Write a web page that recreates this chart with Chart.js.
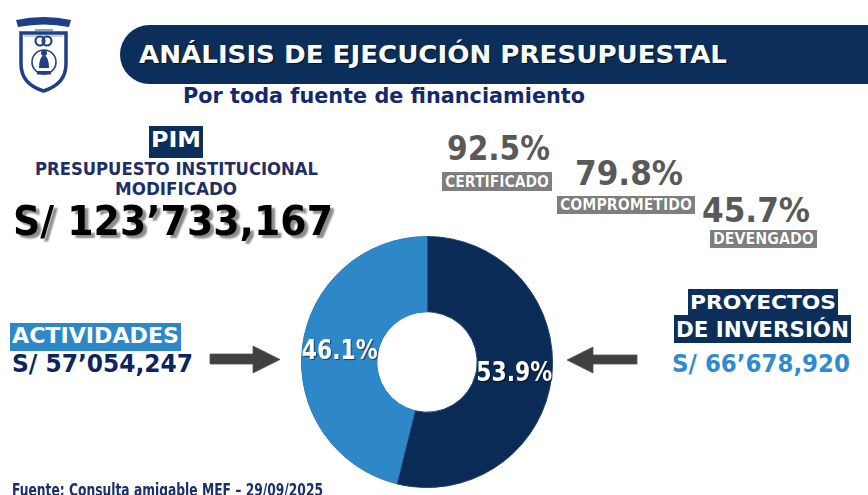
<!DOCTYPE html>
<html>
<head>
<meta charset="utf-8">
<script src="https://cdn.jsdelivr.net/npm/chart.js@4.4.1/dist/chart.umd.min.js"></script>
<style>
  html, body { margin: 0; padding: 0; background: #fff; }
  #page { position: relative; width: 868px; height: 495px; overflow: hidden;
          font-family: "DejaVu Sans", sans-serif; font-weight: bold; }
  .t { position: absolute; white-space: nowrap; line-height: 1; transform-origin: 0 0; }
  .box { position: absolute; }
  #banner { position: absolute; left: 120px; top: 25px; width: 760px; height: 59px;
            background: #0b2f5a; border-radius: 30px 0 0 30px; }
  #donut { position: absolute; left: 301px; top: 236px; width: 252px; height: 252px; }
</style>
</head>
<body>
<div id="page">
  <svg style="position:absolute;left:0;top:0" width="868" height="495">
    <!-- crest -->
    <path d="M16 20 Q44 14 71 20 L69 27 Q44 22 18 27 Z" fill="#203f86"/>
    <rect x="35" y="29" width="18" height="2" fill="#203f86" opacity="0.5"/>
    <path d="M21 33 L66 33 L66 64 Q66 84 43.5 91 Q21 84 21 64 Z" fill="#fff" stroke="#203f86" stroke-width="3.5"/>
    <path d="M24 36 L63 36" stroke="#203f86" stroke-width="1" opacity="0.5"/>
    <circle cx="40" cy="41" r="4.5" fill="none" stroke="#203f86" stroke-width="2.2"/>
    <circle cx="47" cy="41" r="4.5" fill="none" stroke="#203f86" stroke-width="2.2"/>
    <circle cx="44" cy="62" r="12" fill="none" stroke="#203f86" stroke-width="1.6"/>
    <path d="M39 68 Q39 57 44 55 Q49 57 49 68 Z" fill="#203f86"/>
    <circle cx="44" cy="53" r="3" fill="#203f86"/>
    <rect x="37" y="71" width="14" height="3.5" fill="#203f86"/>
    <!-- arrows -->
    <polygon points="210,354 253,354 253,346 280,359.5 253,373 253,364 210,364" fill="#404040" stroke="#555" stroke-width="0.8"/>
    <polygon points="637,355 593,355 593,347 567,360 593,373 593,364 637,364" fill="#404040" stroke="#555" stroke-width="0.8"/>
  </svg>
  <div id="banner"></div>
  <div class="box" style="left:149px;top:126px;width:54px;height:32px;background:#0b2f5a"></div>
  <div class="box" style="left:10px;top:323px;width:171px;height:28px;background:#2e88c8"></div>
  <div class="box" style="left:688px;top:289px;width:150px;height:27px;background:#0b2f5a"></div>
  <div class="box" style="left:674px;top:315px;width:177px;height:28px;background:#0b2f5a"></div>
  <div id="donut"><canvas id="chart"></canvas></div>
</div>
<script>
// budget split (soles)
const categories = ["PROYECTOS DE INVERSIÓN", "ACTIVIDADES"];
const amounts = [66678920, 57054247];
const pimTotal = 123733167;
const sliceColors = ["#0a2b55", "#2e88c8"];
const sliceBorders = ["#1d4170", "#2a7cba"];

// execution stages (% of PIM)
const stages = ["CERTIFICADO", "COMPROMETIDO", "DEVENGADO"];
const stagePct = [92.5, 79.8, 45.7];

function soles(n) {
  const s = String(n);
  const m = s.slice(0, -6), k = s.slice(-6, -3), u = s.slice(-3);
  return "S/ " + m + "\u2019" + k + "," + u;
}

const page = document.getElementById("page");

// put a text so its cap height / left / width match the picture
function put(text, x, capTop, capH, w, color, css) {
  const fs = capH / 0.729;
  const el = document.createElement("div");
  el.className = "t";
  el.textContent = text;
  el.style.fontSize = fs + "px";
  el.style.left = x + "px";
  el.style.top = (capTop - 0.117 * fs) + "px";
  el.style.color = color;
  if (css) Object.assign(el.style, css);
  page.appendChild(el);
  const real = el.getBoundingClientRect().width;
  el.style.transform = "scaleX(" + (w / real) + ")";
  return el;
}

put("ANÁLISIS DE EJECUCIÓN PRESUPUESTAL", 139, 45, 18.5, 588, "#fff",
    { textShadow: "1px 1px 1px rgba(0,0,0,0.6)" });
put("Por toda fuente de financiamiento", 183, 88, 16, 402, "#14296b");

put("PIM", 151, 132, 16, 50, "#fff");
put("PRESUPUESTO INSTITUCIONAL", 35, 162, 13, 283, "#1f2f66");
put("MODIFICADO", 115, 182, 13, 122, "#1f2f66");
put(soles(pimTotal), 13, 206, 29.5, 320, "#000",
    { textShadow: "4px 3px 2px #8c8c8c" });

// stage percentages + grey tags
const pctPos = [[447, 137, 103], [575, 162, 108], [702, 199, 108]];
const tagPos = [[442, 172, 110, 19], [557, 196, 138, 18], [710, 230, 107, 18]];
stages.forEach((name, i) => {
  const p = pctPos[i], b = tagPos[i];
  put(stagePct[i].toFixed(1) + "%", p[0], p[1], 24, p[2], "#595959");
  const box = document.createElement("div");
  box.className = "box";
  Object.assign(box.style, { left: b[0] + "px", top: b[1] + "px", width: b[2] + "px",
                             height: b[3] + "px", background: "#7f7f7f" });
  page.appendChild(box);
  put(name, b[0] + 3, b[1] + (b[3] - 12) / 2, 12, b[2] - 6, "#fff",
      { textShadow: "0 0 1px rgba(0,0,0,0.5)" });
});

put(categories[1], 12, 328.5, 15, 167, "#fff");
put(soles(amounts[1]), 12, 355, 18, 181, "#0d2461");
put("PROYECTOS", 690, 295, 14.5, 146, "#fff");
put("DE INVERSIÓN", 676, 322, 15, 173, "#fff");
put(soles(amounts[0]), 672, 355, 18, 178, "#2e8bcf");

put("Fuente: Consulta amigable MEF \u2013 29/09/2025", 12, 484, 12.5, 311, "#1a2f6b");

// percentage labels inside the ring
const sliceLabels = {
  id: "sliceLabels",
  afterDatasetsDraw(chart) {
    const ctx = chart.ctx;
    const data = chart.data.datasets[0].data;
    const sum = data.reduce((a, b) => a + b, 0);
    chart.getDatasetMeta(0).data.forEach((arc, i) => {
      const pos = arc.tooltipPosition();
      const txt = (data[i] / sum * 100).toFixed(1) + "%";
      ctx.save();
      ctx.font = "bold 27px 'DejaVu Sans'";
      const sx = 76 / ctx.measureText(txt).width;
      ctx.translate(pos.x, pos.y);
      ctx.scale(sx, 1);
      ctx.textAlign = "center";
      ctx.textBaseline = "middle";
      ctx.shadowColor = "rgba(0,0,0,0.55)";
      ctx.shadowOffsetX = 1;
      ctx.shadowOffsetY = 1;
      ctx.shadowBlur = 1;
      ctx.fillStyle = "#fff";
      ctx.fillText(txt, 0, 1);
      ctx.restore();
    });
  },
};

new Chart(document.getElementById("chart"), {
  type: "doughnut",
  data: {
    labels: categories,
    datasets: [{
      data: amounts,
      backgroundColor: sliceColors,
      borderColor: sliceBorders,
      borderWidth: 1,
      hoverOffset: 0,
    }],
  },
  options: {
    responsive: true,
    maintainAspectRatio: false,
    animation: false,
    cutout: "40%",
    layout: { padding: 0 },
    plugins: { legend: { display: false }, tooltip: { enabled: false } },
  },
  plugins: [sliceLabels],
});
</script>
</body>
</html>
